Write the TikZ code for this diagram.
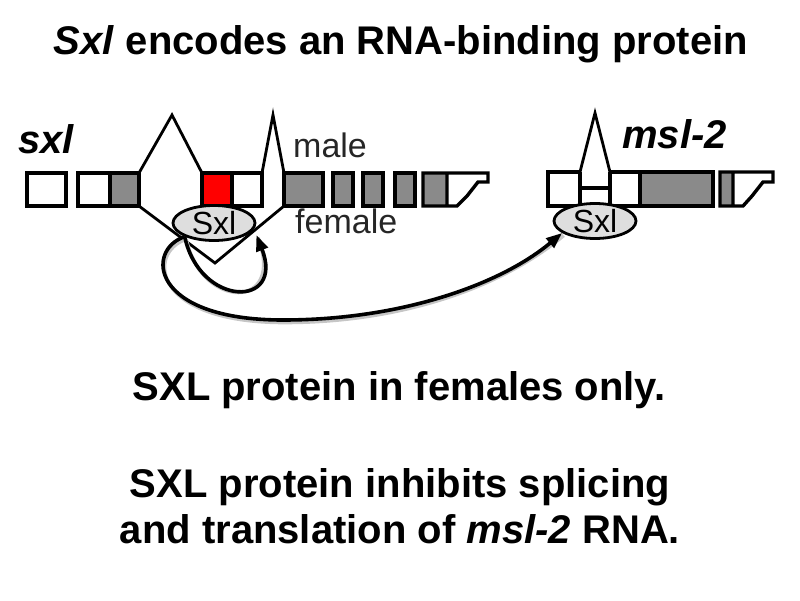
\documentclass[tikz,border=0pt]{standalone}
\usepackage{fontspec}
\setmainfont{Liberation Sans}
\usetikzlibrary{arrows.meta,shapes.geometric}
\definecolor{exgray}{RGB}{138,138,138}
\definecolor{sxlfill}{RGB}{222,222,222}
\newcommand{\fs}[1]{\fontsize{#1}{#1}\selectfont}

\begin{document}
\begin{tikzpicture}[x=1pt, y=-1pt, >={Triangle[length=16pt,width=12pt]},
  ex/.style={draw, line width=3.4pt}, gx/.style={fill=exgray}, intr/.style={draw, line width=2.8pt},
  prot/.style={ellipse, draw, line width=2.8pt, fill=sxlfill, minimum width=82pt, minimum height=35pt, inner sep=0pt, font=\fs{32}},
  lbl/.style={anchor=base west, inner sep=0pt}, big/.style={anchor=base, inner sep=0pt, font=\bfseries\fs{40}},
  arr/.style={line width=3.6pt}, shd/.style={line width=3.6pt, gray!45}]
	\useasboundingbox (0,0) rectangle (800,600);
	\node[big] (title) at (401,54) {\textit{Sxl} encodes an RNA-binding protein};
	\node[lbl, font=\bfseries\itshape\fs{40}] (sxl) at (18,153) {sxl};
	\node[lbl, font=\bfseries\itshape\fs{40}] (msl) at (622,148) {msl-2};
	\node[lbl, font=\fs{34}, text=black!85] (male) at (293,157) {male};
	\node[lbl, font=\fs{34}, text=black!85] (female) at (295,233) {female};
	\draw[intr] (139,173) -- (172,115) -- (202,173);
	\draw[intr] (262,173) -- (273,115) -- (284,173);
	\draw[intr] (139,206) -- (215,263) -- (284,206);
	\draw[ex] (27,173) rectangle (66,206);
	\fill[gx] (110,173) rectangle (139,206);
	\draw[ex] (78,173) rectangle (139,206) (110,173) -- (110,206);
	\fill[red] (202,173) rectangle (232,206);
	\draw[ex] (202,173) rectangle (262,206) (232,173) -- (232,206);
	\draw[ex, gx] (284,173) rectangle (323,206);
	\draw[ex, gx] (333,173) rectangle (353,206);
	\draw[ex, gx] (363,173) rectangle (383,206);
	\draw[ex, gx] (395,173) rectangle (415,206);
	\fill[gx] (423,173) rectangle (447,206);
	\draw[ex] (423,173) -- (488,173) -- (488,182) -- (478,182) -- (467,196) -- (457,206) -- (423,206) -- cycle (447,173) -- (447,206);
	\node[prot] (sxlp) at (214,223) {Sxl};
	\fill[gx] (640,172) rectangle (713,206);
	\draw[ex] (580,172) -- (548,172) -- (548,206) -- (713,206) -- (713,172) -- (610,172) (580,172) -- (580,206) (610,172) -- (610,206) (640,172) -- (640,206) (580,188) -- (610,188);
	\draw[intr] (580,172) -- (595,113) -- (610,172);
	\fill[gx] (720,172) rectangle (733,206);
	\draw[ex] (720,172) -- (773,172) -- (773,182) -- (763,182) -- (752,196) -- (743,206) -- (720,206) -- cycle (733,172) -- (733,206);
	\node[prot] (mslp) at (595,221) {Sxl};
	\begin{scope}[transform canvas={xshift=1.5pt, yshift=-2.5pt}]
		\draw[shd] (sxlp.205) .. controls (200,308) and (285,308) .. ([yshift=-12pt]sxlp.east);
		\draw[shd] (sxlp.205) .. controls (145,250) and (150,320) .. (283,320) .. controls (400,320) and (500,285) .. (mslp.200);
	\end{scope}
	\draw[arr, ->] (sxlp.205) .. controls (200,308) and (285,308) .. ([yshift=-12pt]sxlp.east);
	\draw[arr, ->] (sxlp.205) .. controls (145,250) and (150,320) .. (283,320) .. controls (400,320) and (500,285) .. (mslp.200);
	\node[big] (fem) at (399,400) {SXL protein in females only.};
	\node[big] (inh) at (400,497) {SXL protein inhibits splicing};
	\node[big] (trl) at (400,543) {and translation of \textit{msl-2} RNA.};
\end{tikzpicture}
\end{document}
